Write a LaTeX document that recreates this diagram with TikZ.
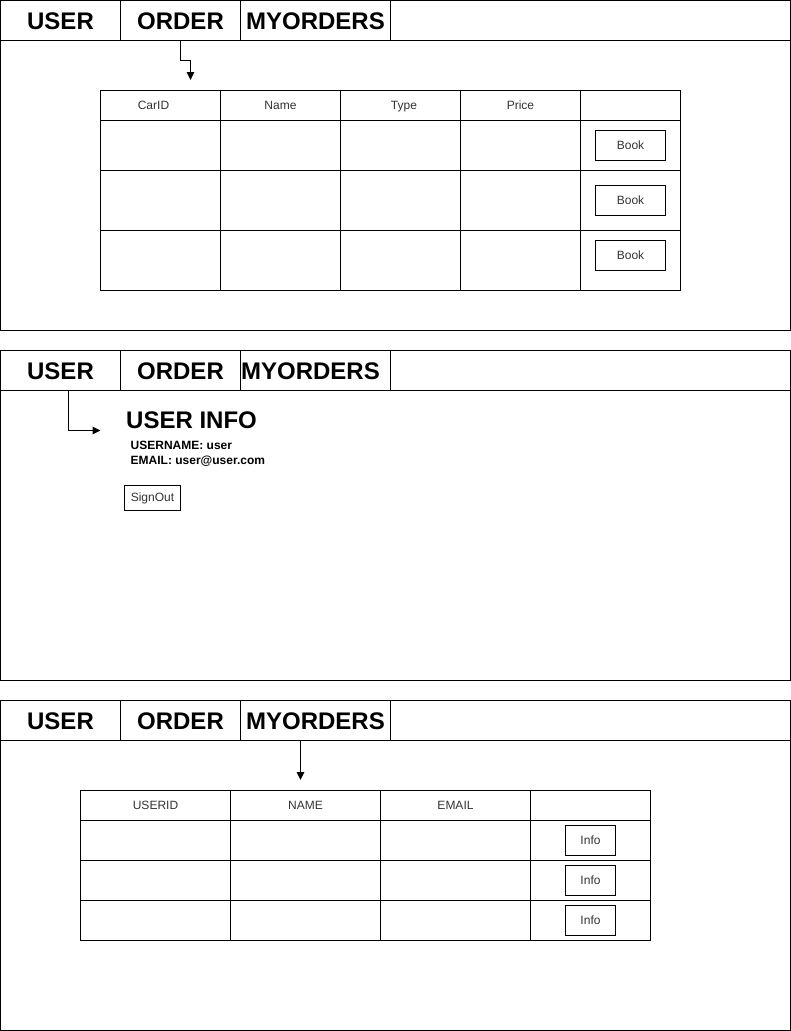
\documentclass[tikz,border=0pt]{standalone}
\usepackage{fontspec}
\setmainfont{Liberation Sans}
\usetikzlibrary{arrows.meta}
\definecolor{celltext}{HTML}{333333}
\begin{document}
\begin{tikzpicture}[x=1pt,y=-1pt,
  box/.style={draw, line width=1pt, inner sep=0pt, outer sep=0pt, anchor=north west},
  tab/.style={box, minimum height=40pt, font=\fontsize{24}{28}\selectfont\bfseries, text height=17pt, text depth=0pt},
  lbl/.style={inner sep=0pt, font=\fontsize{12}{14}\selectfont, text=celltext, text height=8.6pt, text depth=0pt},
  btn/.style={draw, line width=1pt, inner sep=0pt, outer sep=0pt, anchor=center, font=\fontsize{12}{14}\selectfont, text=celltext, text height=8.6pt, text depth=0pt},
  arr/.style={draw, line width=1pt, -{Triangle[length=8pt,width=7.5pt]}}]
\useasboundingbox (0,0) rectangle (791,1031);

% ---------- Panel 1 ----------
\begin{scope}
\node[box, minimum width=790pt, minimum height=330pt] (p1) at (0.5,0.5) {};
\node[box, minimum width=790pt, minimum height=40pt] (p1bar) at (0.5,0.5) {};
\node[tab, minimum width=120pt] (p1user) at (0.5,0.5) {USER};
\node[tab, minimum width=120pt] (p1order) at (120.5,0.5) {ORDER};
\node[tab, minimum width=150pt] (p1my) at (240.5,0.5) {MYORDERS};
\foreach \x/\w in {100/120,220/120,340/120,460/120,580/100}
  \foreach \y/\h in {90/30,120/50,170/60,230/60}
    \node[box, minimum width=\w pt, minimum height=\h pt] (t1-\x-\y) at (\x+0.5,\y+0.5) {};
\node[lbl] (t1carid) at (153.5,105) {CarID};
\node[lbl] (t1name) at (280.5,105) {Name};
\node[lbl] (t1type) at (404,105) {Type};
\node[lbl] (t1price) at (520.5,105) {Price};
\node[btn, minimum width=70pt, minimum height=30pt] (b1) at (630.5,145.5) {Book};
\node[btn, minimum width=70pt, minimum height=30pt] (b2) at (630.5,200.5) {Book};
\node[btn, minimum width=70pt, minimum height=30pt] (b3) at (630.5,255.5) {Book};
\coordinate (a1end) at (190.5,80);
\draw[arr] (p1order.south) -- (180.5,60.5) -- (190.5,60.5) -- (a1end);
\end{scope}

% ---------- Panel 2 ----------
\begin{scope}
\node[box, minimum width=790pt, minimum height=330pt] (p2) at (0.5,350.5) {};
\node[box, minimum width=790pt, minimum height=40pt] (p2bar) at (0.5,350.5) {};
\node[tab, minimum width=120pt] (p2user) at (0.5,350.5) {USER};
\node[tab, minimum width=120pt] (p2order) at (120.5,350.5) {ORDER};
\node[box, minimum width=150pt, minimum height=40pt] (p2my) at (240.5,350.5) {};
\node[inner sep=0pt, font=\fontsize{24}{28}\selectfont\bfseries, text height=17pt, text depth=0pt] (p2mytxt) at (310.5,370.5) {MYORDERS};
\node[anchor=west, inner sep=0pt, font=\fontsize{24}{28}\selectfont\bfseries, text height=17pt, text depth=0pt] (uinfo) at (126,420) {USER INFO};
\node[anchor=west, align=left, inner sep=0pt, font=\fontsize{12}{15}\selectfont\bfseries] (udata) at (130.5,454) {USERNAME: user\\EMAIL: user@user.com};
\node[btn, minimum width=56pt, minimum height=25pt] (signout) at (152.5,497.5) {SignOut};
\coordinate (a2end) at (100.5,430.5);
\draw[arr] (68.5,390.5) -- (68.5,430.5) -- (a2end);
\end{scope}

% ---------- Panel 3 ----------
\begin{scope}
\node[box, minimum width=790pt, minimum height=330pt] (p3) at (0.5,700.5) {};
\node[box, minimum width=790pt, minimum height=40pt] (p3bar) at (0.5,700.5) {};
\node[tab, minimum width=120pt] (p3user) at (0.5,700.5) {USER};
\node[tab, minimum width=120pt] (p3order) at (120.5,700.5) {ORDER};
\node[tab, minimum width=150pt] (p3my) at (240.5,700.5) {MYORDERS};
\foreach \x/\w in {80/150,230/150,380/150,530/120}
  \foreach \y/\h in {790/30,820/40,860/40,900/40}
    \node[box, minimum width=\w pt, minimum height=\h pt] (t3-\x-\y) at (\x+0.5,\y+0.5) {};
\node[lbl] (t3userid) at (155.5,805) {USERID};
\node[lbl] (t3name) at (305.5,805) {NAME};
\node[lbl] (t3email) at (455.5,805) {EMAIL};
\node[btn, minimum width=50pt, minimum height=30pt] (i1) at (590.5,840.5) {Info};
\node[btn, minimum width=50pt, minimum height=30pt] (i2) at (590.5,880.5) {Info};
\node[btn, minimum width=50pt, minimum height=30pt] (i3) at (590.5,920.5) {Info};
\coordinate (a3start) at (300.5,740.5);
\coordinate (a3end) at (300.5,780);
\draw[arr] (a3start) -- (a3end);
\end{scope}
\end{tikzpicture}
\end{document}
